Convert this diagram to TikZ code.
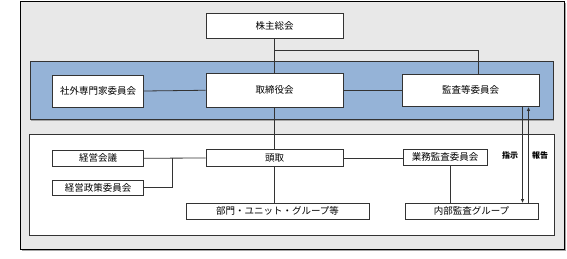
\documentclass[tikz,border=0pt]{standalone}
\usepackage{fontspec}
\newfontfamily\jp{Noto Sans CJK JP}
\usetikzlibrary{shadows,arrows.meta}
\definecolor{bgray}{HTML}{E8E8E8}
\definecolor{bblue}{HTML}{95B3D7}
\definecolor{bline}{HTML}{333333}
\tikzset{
  box/.style={draw=bline, line width=0.8pt, fill=white, inner sep=0pt,
    font=\jp\fontsize{9.5}{11}\selectfont,
    drop shadow={shadow xshift=0.8pt, shadow yshift=-0.8pt, fill=gray!80, opacity=1}},
  conn/.style={draw=bline, line width=0.8pt},
  arr/.style={draw=bline, line width=0.8pt, -{Latex[length=4pt,width=3.5pt]}},
  lbl/.style={font=\jp\bfseries\fontsize{8}{9}\selectfont, inner sep=0pt}
}
\begin{document}
\begin{tikzpicture}[x=1pt,y=-1pt]
\useasboundingbox (0,0) rectangle (567,258);
% outer gray panel
\fill[gray!70] (21.5,2.5) rectangle (565.5,251);
\filldraw[fill=bgray, draw=black, line width=0.8pt] (20,1) rectangle (564.5,249.5);
% blue band
\fill[gray!70] (31,62) rectangle (554,120.5);
\filldraw[fill=bblue, draw=bline, line width=0.8pt] (30,61) rectangle (553,119.5);
% inner white panel
\fill[gray!70] (30,135) rectangle (555,236);
\filldraw[fill=white, draw=bline, line width=0.8pt] (29,134) rectangle (554,235);

% nodes
\node[box, minimum width=137pt, minimum height=25pt] (kabu) at (274.5,26) {株主総会};
\node[box, minimum width=91pt, minimum height=32pt] (shagai) at (98,91) {社外専門家委員会};
\node[box, minimum width=137pt, minimum height=33.5pt] (tori) at (274.5,90.25) {取締役会};
\node[box, minimum width=137pt, minimum height=32.5pt] (kansa) at (470.5,90.25) {監査等委員会};
\node[box, minimum width=91pt, minimum height=15.5pt] (keiei) at (98,158.25) {経営会議};
\node[box, minimum width=91pt, minimum height=15pt] (seisaku) at (98,187.5) {経営政策委員会};
\node[box, minimum width=137pt, minimum height=17pt] (toudori) at (274.5,158) {頭取};
\node[box, minimum width=84pt, minimum height=15.5pt] (gyomu) at (445,157.25) {業務監査委員会};
\node[box, minimum width=183pt, minimum height=15.5pt] (bumon) at (277.5,211.25) {部門・ユニット・グループ等};
\node[box, minimum width=133pt, minimum height=15.5pt] (naibu) at (471.5,211.25) {内部監査グループ};

\node[lbl] (shiji) at (510,155) {指示};
\node[lbl] (houkoku) at (540,155) {報告};

% helper coordinates
\coordinate (branchy) at (0,50.7);
\coordinate (kx) at (478,0);
\coordinate (jx) at (172,0);
\coordinate (gx) at (450,0);
\coordinate (dx) at (522.5,0);
\coordinate (ux) at (528.5,0);

% connectors
\draw[conn] (kabu.south) -- (tori.north);
\draw[conn] (kabu.south |- branchy) -- (kx |- branchy) -- (kx |- kansa.north);
\draw[conn] (shagai.east) -- (tori.west);
\draw[conn] (tori.east) -- (kansa.west);
\draw[conn] (tori.south) -- (toudori.north);
\draw[conn] (keiei.east) -- (toudori.west);
\draw[conn] (seisaku.east) -- (jx |- seisaku.east) -- (jx |- keiei.east);
\draw[conn] (toudori.east) -- (toudori.east -| gyomu.west);
\draw[conn] (toudori.south) -- (toudori.south |- bumon.north);
\draw[conn] (gx |- gyomu.south) -- (gx |- naibu.north);
\draw[arr] (dx |- kansa.south) -- (dx |- naibu.north);
\draw[arr] (ux |- naibu.north) -- (ux |- kansa.south);
\end{tikzpicture}
\end{document}
